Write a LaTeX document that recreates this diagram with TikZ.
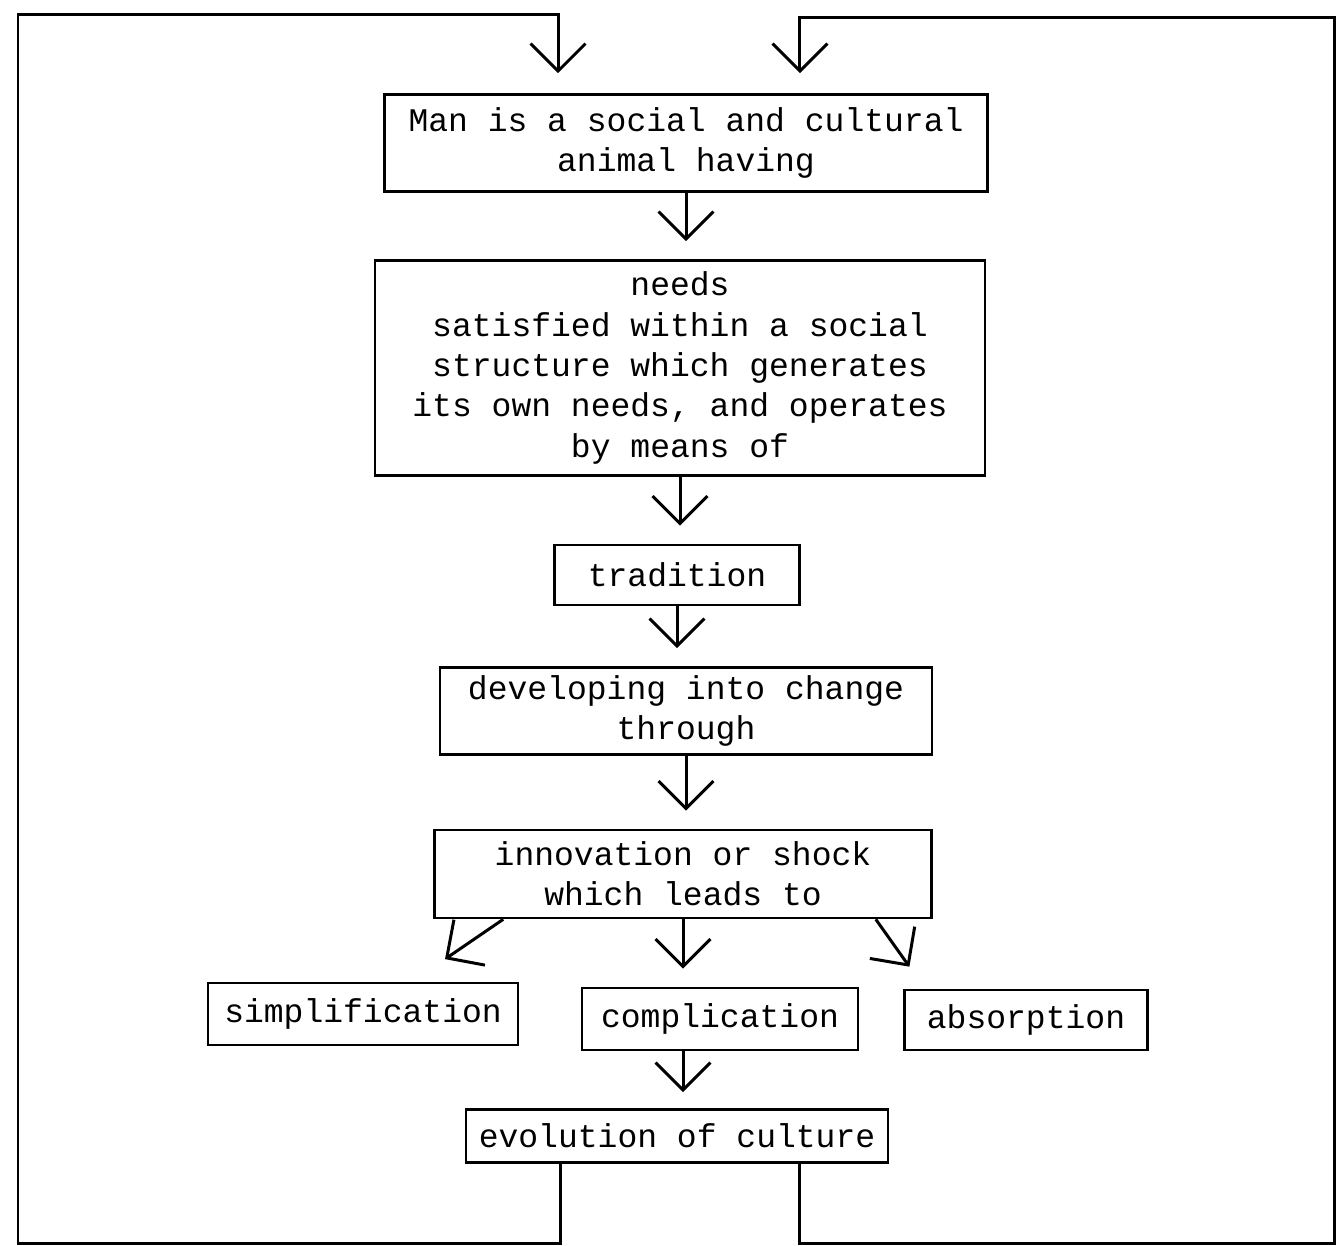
\documentclass[tikz,border=0pt]{standalone}
\usepackage{fontspec}
\setmonofont{Liberation Mono}
\usetikzlibrary{arrows.meta}

\begin{document}
\begin{tikzpicture}[x=0.02cm, y=-0.02cm,
  box/.style={draw, line width=1.5pt, align=center, inner sep=0pt,
    font=\fontsize{18.8}{23}\selectfont\ttfamily},
  arr/.style={line width=1.7pt, -{Straight Barb[length=0.55cm, width=1.1cm]}, shorten >=0.36cm}]

\useasboundingbox (0,0) rectangle (1338,1246);

% boxes, top to bottom
\node[box, minimum width=12.06cm, minimum height=1.94cm] (man) at (686,143)
  {Man is a social and cultural\\animal having};
\node[box, minimum width=12.2cm, minimum height=4.3cm] (needs) at (680,368)
  {needs\\satisfied within a social\\structure which generates\\its own needs, and operates\\by means of};
\node[box, minimum width=4.9cm, minimum height=1.2cm] (trad) at (677,575) {tradition};
\node[box, minimum width=9.84cm, minimum height=1.74cm] (dev) at (686,711)
  {developing into change\\through};
\node[box, minimum width=9.94cm, minimum height=1.76cm] (inno) at (683,874)
  {innovation or shock\\which leads to};
\node[box, minimum width=6.2cm, minimum height=1.24cm] (simp) at (363,1014) {simplification};
\node[box, minimum width=5.52cm, minimum height=1.24cm] (compl) at (720,1019) {complication};
\node[box, minimum width=4.86cm, minimum height=1.2cm] (absorb) at (1026,1020) {absorption};
\node[box, minimum width=8.44cm, minimum height=1.06cm] (evol) at (677,1136) {evolution of culture};

% connectors
\draw[arr] (man.south) -- (man.south |- needs.north);
\draw[arr] (needs.south) -- (needs.south |- trad.north);
\draw[arr] (trad.south) -- (trad.south |- dev.north);
\draw[arr] (dev.south) -- (dev.south |- inno.north);
\draw[arr, shorten >=0.8cm] ([xshift=1.4cm]inno.south west) -- ([xshift=0.98cm]simp.north);
\draw[arr] (inno.south) -- (inno.south |- compl.north);
\draw[arr, shorten >=0.54cm] ([xshift=-1.14cm]inno.south east) -- ([xshift=-2.02cm]absorb.north);
\draw[arr, shorten >=0.32cm] (compl.south -| inno.south) -- (inno.south |- evol.north);

% feedback loops
\draw[arr, shorten >=0.4cm] ([xshift=-2.34cm]evol.south) -- ++(0,80) -| (18,15)
  -| ([xshift=-2.56cm]man.north);
\draw[arr, shorten >=0.4cm] ([xshift=2.46cm]evol.south) -- ++(0,80) -| (1334,18)
  -| ([xshift=2.28cm]man.north);

\end{tikzpicture}
\end{document}
